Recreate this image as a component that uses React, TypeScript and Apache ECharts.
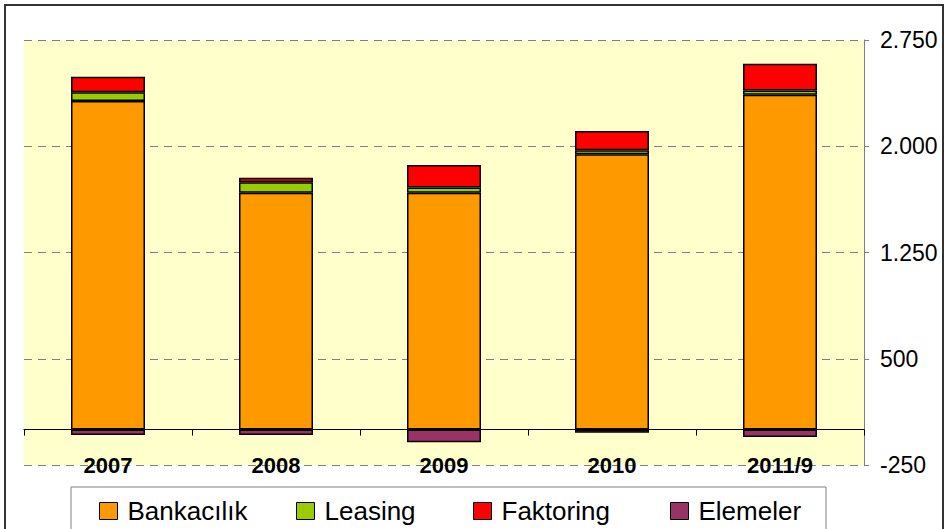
import React, { useEffect, useRef } from "react";
import * as echarts from "echarts";

const categories = ["2007", "2008", "2009", "2010", "2011/9"];
const seriesNames = ["Bankacılık", "Leasing", "Faktoring", "Elemeler"];
const bankacilik = [2319, 1671, 1671, 1944, 2364];
const leasing = [63, 75, 38, 28, 30];
const faktoring = [109, 31, 159, 136, 188];
const elemeler = [-38, -38, -89, -23, -52];
const colors = ["#FF9900", "#99CC00", "#FF0000", "#993366"];
const yMin = -250;
const yMax = 2750;
const yInterval = 750;
const legendLefts = [99, 296, 473, 670];

const FONT = "'Liberation Sans', Arial, Helvetica, sans-serif";

export default function App() {
  const ref = useRef<HTMLDivElement>(null);
  useEffect(() => {
    if (!ref.current) return;
    const chart = echarts.init(ref.current, null, { renderer: "svg" });
    const values = [bankacilik, leasing, faktoring, elemeler];
    const option: any = {
      animation: false,
      backgroundColor: "#ffffff",
      textStyle: { fontFamily: FONT },
      grid: {
        left: 24,
        right: 83,
        top: 40,
        bottom: 64,
        show: true,
        backgroundColor: "#FFFFCC",
        borderWidth: 0,
      },
      xAxis: {
        type: "category",
        data: categories,
        axisLine: { onZero: true, lineStyle: { color: "#000000", width: 1 } },
        axisTick: { show: true, length: 6, lineStyle: { color: "#000000" } },
        axisLabel: {
          margin: -11,
          fontSize: 22,
          fontWeight: "bold",
          color: "#000000",
          fontFamily: FONT,
        },
      },
      yAxis: {
        type: "value",
        position: "right",
        min: yMin,
        max: yMax,
        interval: yInterval,
        axisLine: { show: true, lineStyle: { color: "#808080", width: 1 } },
        axisTick: { show: true, length: 5, lineStyle: { color: "#808080" } },
        axisLabel: {
          margin: 16,
          fontSize: 23,
          color: "#000000",
          fontFamily: FONT,
          formatter: (v: number) => {
            const s = Math.abs(v).toString().replace(/\B(?=(\d{3})+(?!\d))/g, ".");
            return (v < 0 ? "-" : "") + s;
          },
        },
        splitLine: {
          show: true,
          lineStyle: { color: "#808080", width: 1, type: [8, 6] },
        },
      },
      legend: seriesNames.map((n, i) => ({
        data: [n],
        left: legendLefts[i],
        top: 498,
        padding: 0,
        itemWidth: 18,
        itemHeight: 17,
        itemGap: 0,
        icon: "rect",
        itemStyle: { borderColor: "#000000", borderWidth: 1 },
        textStyle: {
          fontSize: 26,
          color: "#000000",
          fontFamily: FONT,
          padding: [0, 0, 0, 5],
        },
      })),
      graphic: [
        {
          type: "rect",
          z: 0,
          shape: { x: 71, y: 487, width: 755, height: 60 },
          style: { fill: "#ffffff", stroke: "#808080", lineWidth: 1 },
        },
        {
          type: "rect",
          z: 100,
          shape: { x: 5, y: 5, width: 938, height: 540 },
          style: { fill: "none", stroke: "#333333", lineWidth: 2 },
        },
      ],
      series: seriesNames.map((n, i) => ({
        name: n,
        type: "bar",
        stack: "total",
        barWidth: 74,
        data: values[i],
        itemStyle: {
          color: colors[i],
          borderColor: "#000000",
          borderWidth: 1.5,
        },
      })),
    };
    chart.setOption(option);
    return () => chart.dispose();
  }, []);
  return (
    <div
      ref={ref}
      style={{ position: "fixed", left: 0, top: 0, width: 947, height: 529 }}
    />
  );
}
